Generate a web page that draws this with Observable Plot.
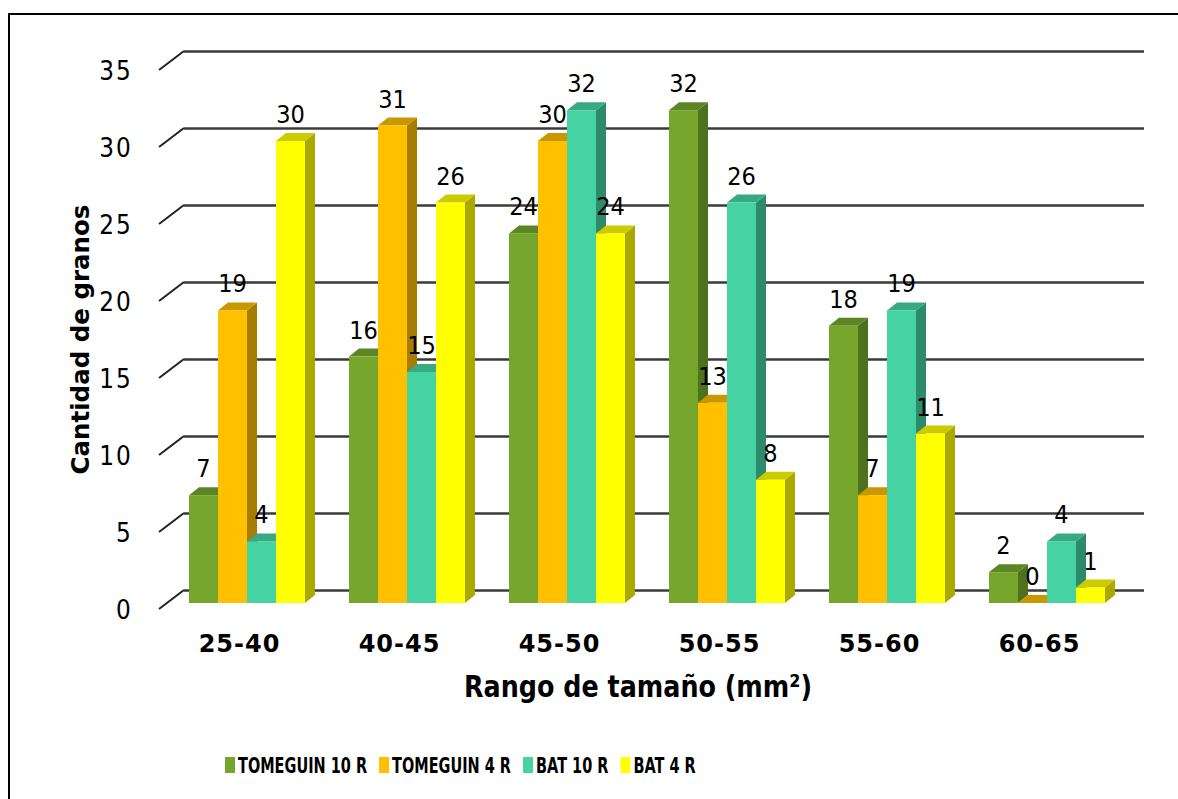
<!DOCTYPE html>
<html>
<head>
<meta charset="utf-8">
<script src="https://cdn.jsdelivr.net/npm/d3@7"></script>
<script src="https://cdn.jsdelivr.net/npm/@observablehq/plot@0.6"></script>
<style>
  html, body { margin: 0; padding: 0; background: #fff; width: 1178px; height: 799px; overflow: hidden; }
  #frame { position: absolute; left: 8px; top: 13px; width: 1300px; height: 900px; border: 2px solid #000; box-sizing: border-box; }
  #chart { position: absolute; left: 0; top: 0; }
  #legend { position: absolute; left: 0; top: 740px; }
</style>
</head>
<body>
<div id="frame"></div>
<div id="chart"></div>
<div id="legend"></div>
<script>
// Size classes of the grains and the four varieties / treatments
const categories = ["25-40", "40-45", "45-50", "50-55", "55-60", "60-65"];
const series = ["TOMEGUIN 10 R", "TOMEGUIN 4 R", "BAT 10 R", "BAT 4 R"];

// Number of grains per size class
const tomeguin10 = [7, 16, 24, 32, 18, 2];
const tomeguin4 = [19, 31, 30, 13, 7, 0];
const bat10 = [4, 15, 32, 26, 19, 4];
const bat4 = [30, 26, 24, 8, 11, 1];

const yTicks = [0, 5, 10, 15, 20, 25, 30, 35];
const xTitle = "Rango de tamaño (mm²)";
const yTitle = "Cantidad de granos";

// Face, side and top shades of each series
const faceColors = ["#75A52B", "#FFC000", "#45D3A3", "#FFFF00"];
const sideColors = ["#4E711E", "#A67D00", "#2D8A6A", "#A9A900"];
const topColors = ["#5C8524", "#C99800", "#37AA84", "#CBCB00"];

const valuesBySeries = [tomeguin10, tomeguin4, bat10, bat4];
const rows = [];
series.forEach((s, j) => categories.forEach((c, i) => rows.push({category: c, series: s, k: j, value: valuesBySeries[j][i]})));

const FONT = '"DejaVu Sans", Verdana, sans-serif';
const DX = 10, DY = 8;           // depth of each column
const WALL_DX = 17, WALL_DY = 13; // back wall offset from the column plane

const bw = (s) => typeof s.bandwidth === "function" ? s.bandwidth() : s.bandwidth;

// Text drawn narrower than the font's natural width
function narrowText(parent, x, y, str, {size, sx = 1, weight = "normal", anchor = "middle", spacing = 0, dy = null, rotate = 0}) {
  const t = parent.append("text")
    .attr("transform", `translate(${x},${y})${rotate ? ` rotate(${rotate})` : ""} scale(${sx},1)`)
    .attr("text-anchor", anchor)
    .attr("font-family", FONT).attr("font-size", size).attr("font-weight", weight)
    .attr("fill", "#000")
    .text(str);
  if (spacing) t.attr("letter-spacing", spacing);
  if (dy != null) t.attr("dy", dy);
  return t;
}

// Diagonal tick connectors from the front edge to the back wall, plus tick labels
function yAxis3d(index, scales, values, dimensions) {
  const {y} = scales;
  const x0 = dimensions.marginLeft;
  const g = d3.create("svg:g");
  for (const v of yTicks) {
    g.append("line")
      .attr("x1", x0 - 8).attr("y1", y(v) + 6)
      .attr("x2", x0 + WALL_DX).attr("y2", y(v) - WALL_DY)
      .attr("stroke", "#222").attr("stroke-width", 2);
    narrowText(g, x0 - 34, y(v) + 6, v, {size: 27, sx: 0.86, anchor: "end", spacing: 2.5, dy: "0.36em"});
  }
  return g.node();
}

// 3D columns: front face, side face, top face and value label
function columns3d(index, scales) {
  const {x, y} = scales;
  const band = bw(x);
  const g = d3.create("svg:g");
  for (const cat of categories) {
    const sub = d3.scaleBand(series, [x(cat), x(cat) + band]).paddingInner(0).paddingOuter(0.76);
    const w = sub.bandwidth();
    const group = rows.filter((r) => r.category === cat).sort((a, b) => a.k - b.k);
    group.forEach((r) => {
      const xa = sub(r.series), xb = xa + w;
      const y0 = y(0), yv = y(r.value);
      g.append("path")
        .attr("d", `M${xb},${yv}L${xb + DX},${yv - DY}L${xb + DX},${y0 - DY}L${xb},${y0}Z`)
        .attr("fill", sideColors[r.k]);
      g.append("path")
        .attr("d", `M${xa},${yv}L${xa + DX},${yv - DY}L${xb + DX},${yv - DY}L${xb},${yv}Z`)
        .attr("fill", topColors[r.k]);
      g.append("rect")
        .attr("x", xa).attr("y", yv).attr("width", w).attr("height", y0 - yv)
        .attr("fill", faceColors[r.k]);
    });
    group.forEach((r) => {
      narrowText(g, sub(r.series) + w / 2, y(r.value) - 18, r.value, {size: 24.5, sx: 0.92});
    });
  }
  return g.node();
}

// Axis titles, placed relative to the plot frame
function titles(index, scales, values, dimensions) {
  const {width, height, marginLeft, marginRight, marginTop, marginBottom} = dimensions;
  const cx = (marginLeft + width - marginRight) / 2;
  const bottom = height - marginBottom;
  const cy = (marginTop + bottom) / 2;
  const g = d3.create("svg:g");
  narrowText(g, cx - 9, bottom + 94, xTitle, {size: 31, sx: 0.82, weight: "bold"});
  narrowText(g, marginLeft - 78, cy + 6, yTitle, {size: 24.5, weight: "bold", rotate: -90});
  return g.node();
}

const chart = Plot.plot({
  width: 1178,
  height: 720,
  marginLeft: 167,
  marginRight: 51,
  marginTop: 64,
  marginBottom: 117,
  x: {type: "band", domain: categories, padding: 0, axis: null},
  y: {domain: [0, 35], axis: null},
  style: {fontFamily: FONT, background: "transparent", color: "#000", overflow: "visible"},
  marks: [
    Plot.ruleY(yTicks, {dx: WALL_DX, dy: -WALL_DY, stroke: "#3a3a3a", strokeWidth: 2.5}),
    yAxis3d,
    columns3d,
    Plot.text(categories, {x: (d) => d, y: () => 0, dx: -8, dy: 41, fontSize: 24, fontWeight: "bold", fill: "#000"}),
    titles
  ]
});
document.getElementById("chart").appendChild(chart);

// Slightly spaced category labels
chart.querySelectorAll('g[aria-label="text"] text').forEach((t) => t.setAttribute("letter-spacing", 1));

// Legend below the chart
const legendSvg = d3.select("#legend").append("svg").attr("width", 1178).attr("height", 50);
const LEGEND_SX = 0.69;
let lx = 225;
series.forEach((s, j) => {
  legendSvg.append("rect").attr("x", lx).attr("y", 17).attr("width", 10).attr("height", 16).attr("fill", faceColors[j]);
  const t = narrowText(legendSvg, lx + 13, 33, s, {size: 21, sx: LEGEND_SX, weight: "bold", anchor: "start"});
  lx += 13 + t.node().getComputedTextLength() * LEGEND_SX + 12;
});
</script>
</body>
</html>
